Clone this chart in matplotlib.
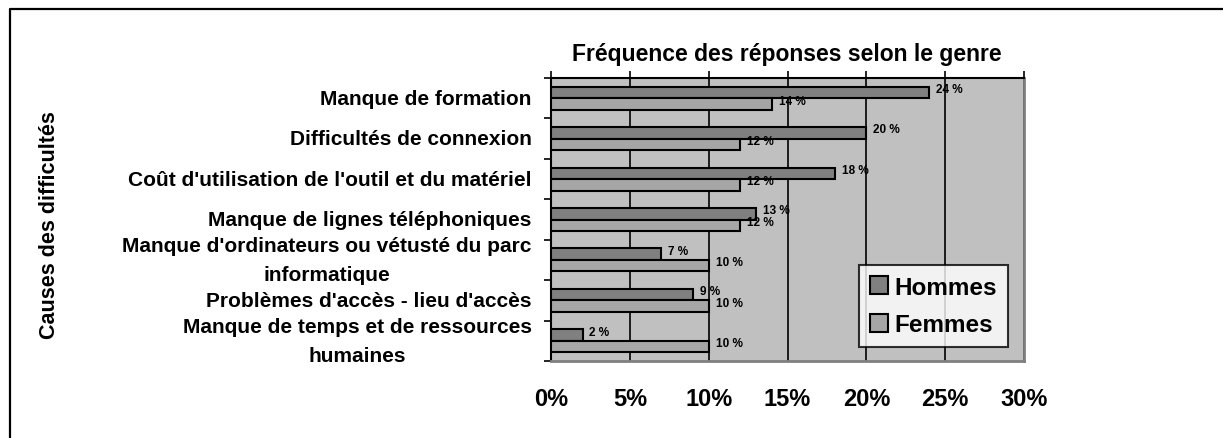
import matplotlib
matplotlib.use("Agg")
import matplotlib.pyplot as plt
from matplotlib.lines import Line2D
from matplotlib.ticker import FixedLocator
import numpy as np

plt.rcParams['font.family'] = ['Liberation Sans', 'DejaVu Sans']
plt.rcParams['font.weight'] = 'bold'

categories = [
    "Manque de formation",
    "Difficultés de connexion",
    "Coût d'utilisation de l'outil et du matériel",
    "Manque de lignes téléphoniques",
    "Manque d'ordinateurs ou vétusté du parc\ninformatique",
    "Problèmes d'accès - lieu d'accès",
    "Manque de temps et de ressources\nhumaines",
]
hommes = [24, 20, 18, 13, 7, 9, 2]
femmes = [14, 12, 12, 12, 10, 10, 10]
series_names = ["Hommes", "Femmes"]
xtick_values = [0, 5, 10, 15, 20, 25, 30]
xtick_labels = ["0%", "5%", "10%", "15%", "20%", "25%", "30%"]
title = "Fréquence des réponses selon le genre"
ylabel = "Causes des difficultés"

W, H = 1223, 439
fig = plt.figure(figsize=(W / 100, H / 100), dpi=100)
fig.patch.set_facecolor('white')

L, R, T, B = 551, 1024, 79, 362
ax = fig.add_axes([L / W, 1 - B / H, (R - L) / W, (B - T) / H])
ax.set_facecolor('#c0c0c0')

y = np.arange(len(categories))
bh = 0.285
ax.barh(y - bh / 2, hommes, height=bh, color='#808080', edgecolor='black',
        linewidth=1.5, label=series_names[0], zorder=3)
ax.barh(y + bh / 2, femmes, height=bh, color='#a6a6a6', edgecolor='black',
        linewidth=1.5, label=series_names[1], zorder=3)

for i, (h, f) in enumerate(zip(hommes, femmes)):
    ax.annotate(f"{h} %", (h, y[i] - bh / 2), xytext=(5, 2.5), textcoords='offset points',
                ha='left', va='center', fontsize=8.5, fontweight='bold', zorder=4)
    ax.annotate(f"{f} %", (f, y[i] + bh / 2), xytext=(5, 2.5), textcoords='offset points',
                ha='left', va='center', fontsize=8.5, fontweight='bold', zorder=4)

ax.set_xlim(0, 30)
ax.set_ylim(len(categories) - 0.5, -0.5)

# x axis: ticks on top, labels on bottom
ax.set_xticks(xtick_values)
ax.set_xticklabels(xtick_labels, fontsize=17, fontweight='bold')
ax.tick_params(axis='x', which='major', top=True, bottom=False, labeltop=False,
               labelbottom=True, direction='out', length=5, width=1.2, pad=14)
ax.grid(axis='x', color='black', linewidth=1.2, zorder=1)
ax.set_axisbelow(True)

# y axis: labels at centers, ticks at boundaries
ax.set_yticks(y)
ax.set_yticklabels(categories, fontsize=15, fontweight='bold')
ax.yaxis.set_minor_locator(FixedLocator(np.arange(len(categories) + 1) - 0.5))
ax.tick_params(axis='y', which='major', length=0, pad=14)
ax.tick_params(axis='y', which='minor', length=5, width=1.2, direction='out')
for lab in ax.get_yticklabels():
    lab.set_multialignment('center')
    lab.set_linespacing(1.66)
    lab.set_verticalalignment('center')

for s in ['left', 'top']:
    ax.spines[s].set_color('black')
    ax.spines[s].set_linewidth(1.5)
for s in ['right', 'bottom']:
    ax.spines[s].set_color('#808080')
    ax.spines[s].set_linewidth(2.0)

leg = ax.legend(loc='lower right', bbox_to_anchor=(0.966, 0.049), frameon=True,
                fancybox=False, edgecolor='black',
                prop={'weight': 'bold', 'size': 17.5}, handlelength=0.75,
                handleheight=0.75, handletextpad=0.25, labelspacing=0.6,
                borderpad=0.45, borderaxespad=0)
leg.get_frame().set_linewidth(1.5)
leg.set_zorder(5)

fig.text(787 / W, 1 - 54 / H, title, ha='center', va='center', fontsize=16.5,
         fontweight='bold')
fig.text(50 / W, 1 - 225 / H, ylabel, ha='center', va='center', rotation=90,
         fontsize=15.5, fontweight='bold')

# outer frame (top and left lines)
fig.add_artist(Line2D([9.5 / W, 9.5 / W, 1], [0, 1 - 10 / H, 1 - 10 / H],
                      transform=fig.transFigure, color='black', linewidth=1.6))

fig.savefig('out.png', dpi=100)
